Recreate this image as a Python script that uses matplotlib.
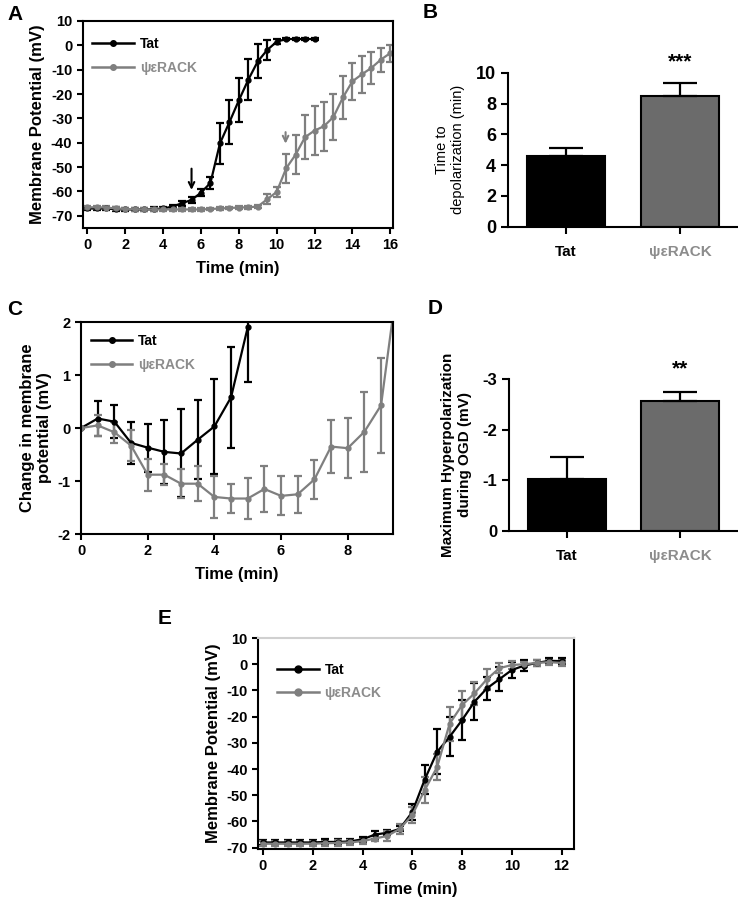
import numpy as np
import matplotlib
matplotlib.use("Agg")
import matplotlib.pyplot as plt
from matplotlib.lines import Line2D

plt.rcParams['font.family'] = ['Liberation Sans', 'DejaVu Sans']
plt.rcParams['font.weight'] = 'bold'
plt.rcParams['axes.labelweight'] = 'bold'
plt.rcParams['axes.unicode_minus'] = False
plt.rcParams['axes.linewidth'] = 1.5
plt.rcParams['xtick.major.width'] = 1.5
plt.rcParams['ytick.major.width'] = 1.5

GRAY = '#7f7f7f'
GRAY_TXT = '#8c8c8c'
BAR_GRAY = '#6b6b6b'
PSI = 'ψεRACK'

# ---- panel A: membrane potential during OGD
a_tat_t = np.arange(0, 12.01, 0.5)
a_tat_v = [-67, -67, -67, -67.3, -67.4, -67.4, -67.4, -67.3, -67, -66.2, -64.8, -63.5,
           -60.5, -56.5, -40.3, -31.6, -22.6, -14.1, -6.6, -1.9, 1.5, 2.6, 2.6, 2.6, 2.6]
a_tat_e = [0.8, 0.8, 0.8, 0.8, 0.8, 0.8, 0.8, 0.8, 0.8, 0.8, 1.0, 1.2,
           1.5, 2.5, 8.5, 9.0, 9.0, 8.5, 7.0, 4.0, 1.0, 0.6, 0.5, 0.5, 0.5]
a_psi_t = np.arange(0, 16.01, 0.5)
a_psi_v = [-66.5, -66.5, -66.6, -67, -67.2, -67.3, -67.4, -67.4, -67.4, -67.4, -67.4, -67.4,
           -67.4, -67.2, -67, -66.8, -66.6, -66.5, -66.2, -63.2, -60.2, -50.5, -44.9, -37.7,
           -35, -33.2, -29.4, -21.4, -14.8, -11.9, -9.3, -5.9, -3.2]
a_psi_e = [0.6, 0.6, 0.6, 0.6, 0.6, 0.6, 0.6, 0.6, 0.6, 0.6, 0.6, 0.6,
           0.6, 0.6, 0.6, 0.6, 0.6, 0.6, 0.8, 2.0, 2.0, 6.0, 8.0, 9.0,
           10.0, 10.0, 9.5, 9.0, 7.5, 7.5, 6.5, 5.0, 3.5]

# ---- panel B: time to depolarization
b_groups = ['Tat', PSI]
b_vals = [4.57, 8.52]
b_errs = [0.55, 0.8]

# ---- panel C: change in membrane potential
c_tat_t = np.arange(0, 5.01, 0.5)
c_tat_v = [0, 0.18, 0.12, -0.28, -0.37, -0.45, -0.48, -0.22, 0.03, 0.58, 1.9]
c_tat_e = [0, 0.33, 0.31, 0.4, 0.45, 0.6, 0.83, 0.74, 0.9, 0.95, 1.03]
c_psi_t = np.arange(0, 9.51, 0.5)
c_psi_v = [0, 0.05, -0.08, -0.33, -0.88, -0.88, -1.05, -1.05, -1.3, -1.33, -1.33, -1.15,
           -1.28, -1.25, -0.97, -0.35, -0.38, -0.07, 0.43, 2.8]
c_psi_e = [0, 0.2, 0.2, 0.3, 0.3, 0.2, 0.27, 0.33, 0.4, 0.27, 0.38, 0.43,
           0.37, 0.35, 0.37, 0.5, 0.57, 0.75, 0.9, 0.9]

# ---- panel D: maximum hyperpolarization
d_groups = ['Tat', PSI]
d_vals = [-1.02, -2.57]
d_errs = [0.43, 0.17]

# ---- panel E: membrane potential (second set)
e_t = np.arange(0, 12.01, 0.5)
e_tat_v = [-68, -68, -68, -68, -68, -67.8, -67.8, -67.6, -66.8, -65, -64.3, -62.8,
           -56.4, -44, -33.4, -27.7, -21.3, -14.3, -9.2, -5.7, -2.2, -0.5, 0.5, 1.3, 1.2]
e_tat_e = [1, 1, 1, 1, 1, 1, 1, 1, 1, 1.5, 1, 1,
           3, 5.5, 8.5, 7.5, 7.5, 7, 4.5, 4.5, 3, 2, 1, 1, 1]
e_psi_v = [-68.5, -68.5, -68.5, -68.5, -68.5, -68.3, -68.2, -68, -67.5, -66.5, -65.5, -62.8,
           -57.5, -48, -39.2, -22.7, -15.6, -11.1, -5.7, -1.5, -0.3, 0, 0.5, 0.8, 0.5]
e_psi_e = [1, 1, 1, 1, 1, 1, 1, 1, 1, 1, 2, 2,
           3, 5, 5, 6.5, 5.5, 4.5, 4, 2, 1.5, 1, 1, 1, 1]

fig = plt.figure(figsize=(7.38, 9.09), dpi=100)


def line_panel(ax, t, v, e, color):
    ax.errorbar(t, v, yerr=e, color=color, marker='o', ms=3.5, lw=1.6,
                elinewidth=1.6, capsize=3, capthick=1.6)


def style_legend(ax, loc, ms=4):
    handles = [Line2D([], [], color='black', marker='o', ms=ms, lw=1.8),
               Line2D([], [], color=GRAY, marker='o', ms=ms, lw=1.8)]
    leg = ax.legend(handles, ['Tat', PSI], loc='upper left', bbox_to_anchor=loc,
                    frameon=False, handlelength=3.0, fontsize=10, labelspacing=0.7,
                    borderpad=0.2, handletextpad=0.4)
    for txt, col in zip(leg.get_texts(), ['black', GRAY_TXT]):
        txt.set_color(col)
        txt.set_fontweight('bold')


def letter(x, y, s):
    fig.text(x, y, s, fontsize=15, fontweight='bold', va='center')


# A
axA = fig.add_axes([0.1121, 0.7492, 0.4205, 0.2277])
line_panel(axA, a_tat_t, a_tat_v, a_tat_e, 'black')
line_panel(axA, a_psi_t, a_psi_v, a_psi_e, GRAY)
axA.set_xlim(-0.25, 16.15)
axA.set_ylim(-75, 10)
axA.set_xticks(range(0, 17, 2))
axA.set_yticks(range(-70, 11, 10))
axA.tick_params(labelsize=10.5, direction='out', length=4)
axA.set_xlabel('Time (min)', fontsize=12, labelpad=6)
axA.set_ylabel('Membrane Potential (mV)', fontsize=12)
axA.annotate('', xy=(5.5, -60.5), xytext=(5.5, -49.5),
             arrowprops=dict(arrowstyle='->', color='black', lw=1.5))
axA.annotate('', xy=(10.47, -41.5), xytext=(10.47, -34.5),
             arrowprops=dict(arrowstyle='->', color=GRAY, lw=1.5))
style_legend(axA, (0.0, 0.97))
letter(0.010, 0.984, 'A')

# B
axB = fig.add_axes([0.6883, 0.7506, 0.3103, 0.1694])
xb = np.arange(len(b_groups))
axB.bar(xb, b_vals, width=0.69, color=['black', BAR_GRAY], edgecolor='black', lw=1.5,
        yerr=[[0, 0], b_errs], capsize=12, error_kw=dict(elinewidth=1.6, capthick=1.6))
axB.set_xlim(-0.51, 1.5)
axB.set_ylim(0, 10)
axB.set_yticks(range(0, 11, 2))
axB.set_xticks(xb)
axB.set_xticklabels(b_groups, fontsize=11)
axB.get_xticklabels()[1].set_color(GRAY_TXT)
axB.tick_params(axis='y', labelsize=13, length=5, width=1.5)
axB.tick_params(axis='x', length=5, width=1.5, pad=8)
axB.spines['top'].set_visible(False)
axB.spines['right'].set_visible(False)
axB.set_ylabel('Time to\ndepolarization (min)', fontsize=10.5, fontweight='normal',
               labelpad=8)
axB.text(1, 10.1, '***', ha='center', va='bottom', fontsize=15, fontweight='bold')
letter(0.572, 0.986, 'B')

# C
axC = fig.add_axes([0.1098, 0.4125, 0.4228, 0.2332])
line_panel(axC, c_tat_t, c_tat_v, c_tat_e, 'black')
line_panel(axC, c_psi_t, c_psi_v, c_psi_e, GRAY)
axC.set_xlim(0, 9.36)
axC.set_ylim(-2, 2)
axC.set_xticks(range(0, 9, 2))
axC.set_yticks(range(-2, 3, 1))
axC.tick_params(labelsize=10.5, direction='out', length=4)
axC.set_xlabel('Time (min)', fontsize=12, labelpad=6)
axC.set_ylabel('Change in membrane\npotential (mV)', fontsize=12)
style_legend(axC, (0.0, 0.99))
letter(0.010, 0.660, 'C')

# D
axD = fig.add_axes([0.6901, 0.4162, 0.3085, 0.1666])
xd = np.arange(len(d_groups))
axD.bar(xd, d_vals, width=0.69, color=['black', BAR_GRAY], edgecolor='black', lw=1.5,
        yerr=[d_errs, [0, 0]], capsize=12, error_kw=dict(elinewidth=1.6, capthick=1.6))
axD.set_xlim(-0.51, 1.5)
axD.set_ylim(0, -3)
axD.set_yticks([0, -1, -2, -3])
axD.set_xticks(xd)
axD.set_xticklabels(d_groups, fontsize=11)
axD.get_xticklabels()[1].set_color(GRAY_TXT)
axD.tick_params(axis='y', labelsize=12, length=5, width=1.5)
axD.tick_params(axis='x', length=5, width=1.5, pad=8)
axD.spines['top'].set_visible(False)
axD.spines['right'].set_visible(False)
axD.set_ylabel('Maximum Hyperpolarization\nduring OGD (mV)', fontsize=11, labelpad=8)
axD.text(1, -3.02, '**', ha='center', va='bottom', fontsize=15, fontweight='bold')
letter(0.579, 0.661, 'D')

# E
axE = fig.add_axes([0.3496, 0.066, 0.4282, 0.2321])
line_panel(axE, e_t, e_tat_v, e_tat_e, 'black')
line_panel(axE, e_t, e_psi_v, e_psi_e, GRAY)
axE.set_xlim(-0.2, 12.5)
axE.set_ylim(-70.5, 10)
axE.set_xticks(range(0, 13, 2))
axE.set_yticks(range(-70, 11, 10))
axE.tick_params(labelsize=10.5, direction='out', length=4)
axE.spines['top'].set_color('#d0d0d0')
axE.set_xlabel('Time (min)', fontsize=12, labelpad=6)
axE.set_ylabel('Membrane Potential (mV)', fontsize=12)
style_legend(axE, (0.03, 0.93), ms=5)
letter(0.213, 0.320, 'E')

fig.savefig('out.png', dpi=100)
